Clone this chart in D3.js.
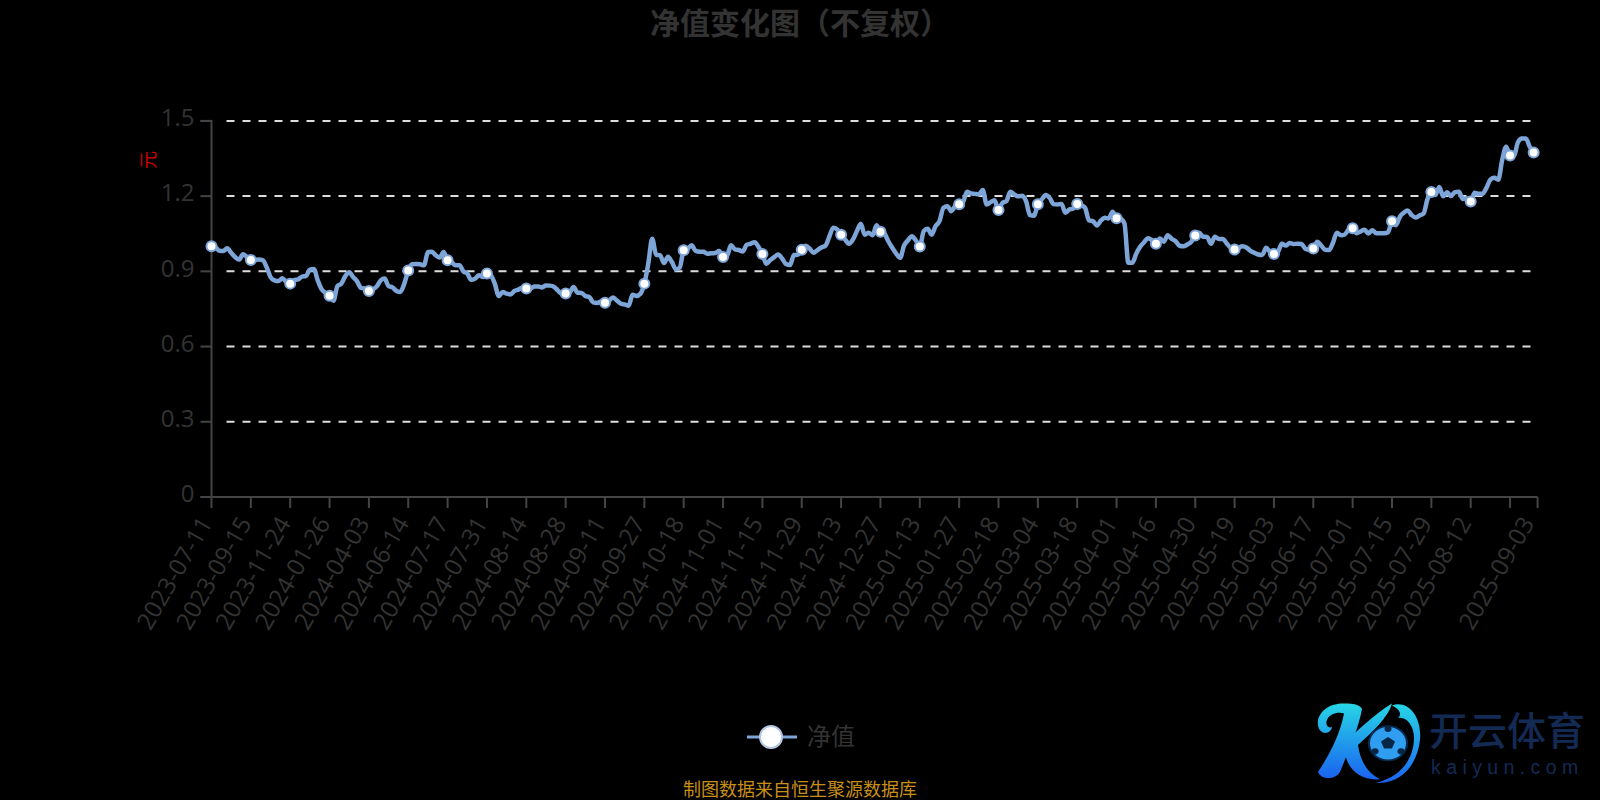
<!DOCTYPE html>
<html>
<head>
<meta charset="utf-8">
<script src="https://cdn.jsdelivr.net/npm/d3@7"></script>
<style>
html, body { margin: 0; padding: 0; background: #000; overflow: hidden; }
text { font-family: "Open Sans", "Noto Sans CJK SC", sans-serif; }
.cjk { font-family: "Noto Sans CJK SC", sans-serif; }
</style>
</head>
<body>
<script>
const values = [
  1.000,.996,.982,.981,.992,.974,.957,.947,.968,.957,
  .945,.945,.947,.945,.917,.877,.864,.861,.872,.859,
  .851,.865,.868,.879,.881,.907,.909,.864,.828,.814,
  .803,.783,.841,.851,.881,.896,.877,.860,.834,.832,
  .822,.828,.840,.864,.871,.841,.836,.822,.818,.851,
  .903,.928,.929,.928,.924,.977,.978,.964,.955,.977,
  .944,.937,.924,.924,.900,.891,.866,.871,.884,.877,
  .891,.884,.851,.802,.818,.811,.808,.822,.827,.836,
  .832,.831,.840,.840,.836,.844,.843,.839,.824,.811,
  .812,.815,.838,.815,.814,.802,.798,.776,.774,.780,
  .775,.783,.796,.784,.771,.768,.763,.807,.802,.811,
  .851,.931,1.03,.966,.964,.933,.958,.937,.908,.915,
  .984,.990,1.004,.982,.978,.978,.970,.972,.973,.981,
  .957,.961,1.004,.988,.985,.979,1.006,1.010,1.016,.998,
  .969,.930,.945,.957,.967,.951,.929,.925,.965,.966,
  .986,1.002,.991,.974,.985,.995,1.002,1.038,1.074,1.067,
  1.046,1.027,1.010,1.027,1.060,1.090,1.046,1.054,1.044,1.084,
  1.058,1.051,1.020,.994,.971,.954,1.003,1.024,1.040,1.023,
  .999,1.060,1.070,1.046,1.080,1.100,1.153,1.160,1.140,1.160,
  1.168,1.177,1.217,1.211,1.209,1.207,1.224,1.167,1.176,1.184,
  1.145,1.173,1.180,1.217,1.207,1.199,1.201,1.180,1.124,1.122,
  1.168,1.187,1.204,1.193,1.168,1.167,1.169,1.134,1.147,1.151,
  1.169,1.164,1.153,1.103,1.100,1.083,1.102,1.114,1.111,1.138,
  1.112,1.110,1.091,.934,.934,.970,.998,1.016,1.032,1.024,
  1.010,1.031,1.018,1.044,1.030,1.020,1.002,1.000,1.007,1.018,
  1.043,1.054,1.038,1.037,1.010,1.038,1.029,1.029,1.011,.994,
  .987,.994,1.000,.995,.982,.974,.967,.965,.994,.977,
  .969,.977,1.010,1.003,1.013,1.009,1.010,1.009,.990,.987,
  .991,1.018,1.003,.986,.985,1.014,1.054,1.044,1.047,1.067,
  1.072,1.052,1.059,1.066,1.051,1.064,1.052,1.052,1.052,1.056,
  1.100,1.084,1.118,1.134,1.143,1.124,1.115,1.123,1.130,1.187,
  1.216,1.204,1.236,1.199,1.215,1.200,1.216,1.217,1.189,1.191,
  1.179,1.213,1.209,1.209,1.233,1.266,1.273,1.265,1.344,1.397,
  1.362,1.362,1.415,1.430,1.430,1.397,1.374
];
const tickIndex = d3.range(0, 340, 10).concat([337]);
const tickLabels = ["2023-07-11","2023-09-15","2023-11-24","2024-01-26","2024-04-03","2024-06-14","2024-07-17",
  "2024-07-31","2024-08-14","2024-08-28","2024-09-11","2024-09-27","2024-10-18","2024-11-01","2024-11-15",
  "2024-11-29","2024-12-13","2024-12-27","2025-01-13","2025-01-27","2025-02-18","2025-03-04","2025-03-18",
  "2025-04-01","2025-04-16","2025-04-30","2025-05-19","2025-06-03","2025-06-17","2025-07-01","2025-07-15",
  "2025-07-29","2025-08-12","","2025-09-03"];
const yTicks = [0, 0.3, 0.6, 0.9, 1.2, 1.5];
const seriesName = "净值";

const width = 1600, height = 800;
const axisColor = "#444", textColor = "#333", lineColor = "#7da5d8";

const x = d3.scaleLinear().domain([0, 337]).range([211.5, 1537.6]);
const y = d3.scaleLinear().domain([0, 1.5]).range([497, 120.9]);

const svg = d3.select("body").append("svg")
    .attr("width", width)
    .attr("height", height)
    .style("display", "block");

// title
svg.append("text").attr("class", "cjk")
    .attr("x", 800).attr("y", 34)
    .attr("text-anchor", "middle")
    .attr("font-size", 30).attr("font-weight", "bold")
    .attr("fill", "#333")
    .text("净值变化图（不复权）");

// grid
svg.append("g").selectAll("line")
  .data(yTicks.filter(d => d > 0))
  .join("line")
    .attr("x1", x(0) + 15).attr("x2", 1531)
    .attr("y1", d => y(d)).attr("y2", d => y(d))
    .attr("stroke", "#ddd").attr("stroke-width", 2)
    .attr("stroke-dasharray", "8 8");

// y axis
const yAxis = svg.append("g")
    .attr("transform", `translate(${x(0)},0)`)
    .call(d3.axisLeft(y).offset(0).tickValues(yTicks).tickFormat(d => d === 0 ? "0" : d3.format(".1f")(d)).tickSize(11).tickPadding(6));
yAxis.selectAll("line,path").attr("stroke", axisColor).attr("stroke-width", 2);
yAxis.selectAll("text").attr("font-size", 24).attr("fill", textColor).attr("font-family", "Open Sans").attr("dy", "0.22em");

// x axis
const xAxis = svg.append("g")
    .attr("transform", `translate(0,${y(0)})`)
    .call(d3.axisBottom(x).offset(0).tickValues(tickIndex).tickFormat((d, i) => tickLabels[i]).tickSize(11).tickSizeOuter(0));
xAxis.selectAll("line,path").attr("stroke", axisColor).attr("stroke-width", 2);
xAxis.selectAll("text")
    .attr("font-size", 24).attr("fill", textColor).attr("font-family", "Open Sans")
    .attr("text-anchor", "end")
    .attr("dy", 0).attr("y", 0)
    .attr("transform", (d, i) => `translate(${i === tickIndex.length - 1 ? -2.5 : 1.5},26) rotate(-60)`);

// red unit label
svg.append("text").attr("class", "cjk")
    .attr("transform", "translate(155,160) rotate(-90)")
    .attr("text-anchor", "middle")
    .attr("font-size", 18).attr("fill", "#d80000")
    .text("元");

// series
const line = d3.line()
    .x((d, i) => x(i))
    .y(d => y(d))
    .curve(d3.curveMonotoneX);

svg.append("path")
    .datum(values)
    .attr("d", line)
    .attr("fill", "none")
    .attr("stroke", lineColor)
    .attr("stroke-width", 4.5)
    .attr("stroke-linejoin", "round");

const markerData = values.map((v, i) => [i, v]).filter(d => d[0] % 10 === 0 || d[0] === values.length - 1);
svg.append("g").selectAll("circle")
  .data(markerData)
  .join("circle")
    .attr("cx", d => x(d[0]))
    .attr("cy", d => y(d[1]))
    .attr("r", 5)
    .attr("fill", "#fff")
    .attr("stroke", lineColor)
    .attr("stroke-width", 2);

// legend
const legend = svg.append("g");
legend.append("line").attr("x1", 747).attr("x2", 797).attr("y1", 737).attr("y2", 737)
    .attr("stroke", lineColor).attr("stroke-width", 3);
legend.append("circle").attr("cx", 771).attr("cy", 737).attr("r", 11)
    .attr("fill", "#fff").attr("stroke", "#b4c8e6").attr("stroke-width", 2);
legend.append("text").attr("class", "cjk")
    .attr("x", 807).attr("y", 745)
    .attr("font-size", 24).attr("fill", "#333")
    .text(seriesName);

// source note
svg.append("text").attr("class", "cjk")
    .attr("x", 800).attr("y", 796)
    .attr("text-anchor", "middle")
    .attr("font-size", 18).attr("fill", "#c88f18")
    .text("制图数据来自恒生聚源数据库");

// watermark logo
const defs = svg.append("defs");
const grad = defs.append("linearGradient").attr("id", "kgrad")
    .attr("x1", 0).attr("y1", 0).attr("x2", 0).attr("y2", 1);
grad.append("stop").attr("offset", 0).attr("stop-color", "#27d6e6");
grad.append("stop").attr("offset", 1).attr("stop-color", "#1a63f0");

const logo = svg.append("g").attr("transform", "translate(1316,700) scale(1,0.9)");
logo.append("path")
    .attr("d", "M30 4 C14 2 0 14 2 28 C3 38 14 40 16 30 C12 32 9 28 11 22 C14 15 22 13 28 15 C24 38 14 60 2 80 C6 90 20 88 24 80 C32 58 42 34 46 10 C44 5 36 4 30 4 Z")
    .attr("fill", "url(#kgrad)");
logo.append("path")
    .attr("d", "M26 50 C40 36 58 16 76 4 C72 20 56 36 42 50 C44 66 50 80 64 88 C48 90 34 80 30 64 Z")
    .attr("fill", "url(#kgrad)");
logo.append("path")
    .attr("d", "M76 6 C92 0 106 18 104 44 C102 70 86 94 60 92 C84 86 98 66 98 42 C98 28 90 18 82 20 C86 16 84 10 76 6 Z")
    .attr("fill", "url(#kgrad)");
logo.append("circle").attr("cx", 72).attr("cy", 48).attr("r", 19)
    .attr("fill", "#2f9df0").attr("stroke", "#0a2a50").attr("stroke-width", 2);
logo.append("path").attr("d", "M72 41 L79 46 L76 54 L68 54 L65 46 Z").attr("fill", "#062648");
logo.append("circle").attr("cx", 72).attr("cy", 32).attr("r", 3.5).attr("fill", "#062648");
logo.append("circle").attr("cx", 59).attr("cy", 57).attr("r", 3.5).attr("fill", "#062648");
logo.append("circle").attr("cx", 85).attr("cy", 57).attr("r", 3.5).attr("fill", "#062648");

svg.append("text").attr("class", "cjk")
    .attr("x", 1429).attr("y", 745)
    .attr("font-size", 39).attr("font-weight", 500)
    .attr("fill", "#132a55")
    .text("开云体育");
svg.append("text")
    .attr("x", 1431).attr("y", 774)
    .attr("font-size", 19.5).attr("letter-spacing", 5.4)
    .style("font-family", "Liberation Sans")
    .attr("fill", "#132a55")
    .text("kaiyun.com");
</script>
</body>
</html>
